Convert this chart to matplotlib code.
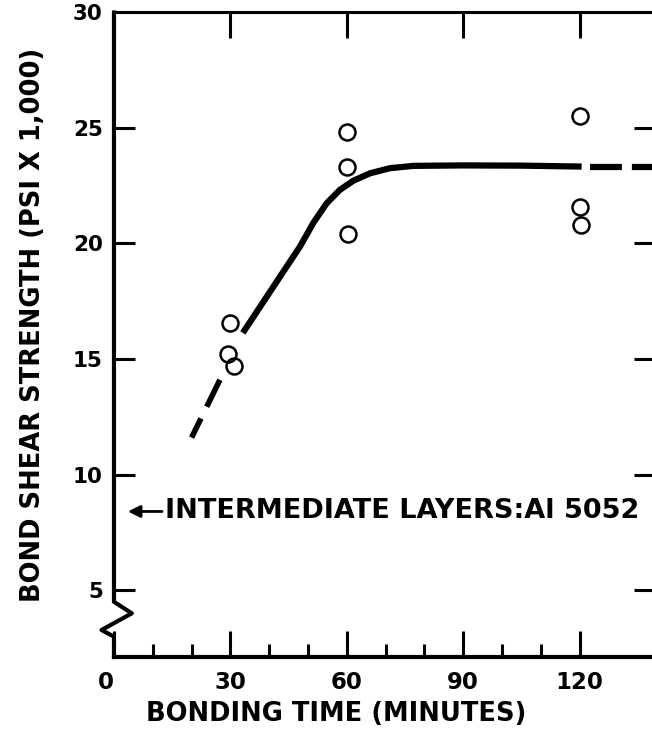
import matplotlib
matplotlib.use("Agg")
import matplotlib.pyplot as plt
from matplotlib.ticker import FixedLocator

# bonding time (min) vs bond shear strength (psi x 1000)
time_pts = [30.0, 29.5, 30.8, 60.0, 60.0, 60.2, 120.0, 120.2, 120.4]
strength_pts = [16.57, 15.22, 14.70, 24.82, 23.29, 20.39, 25.52, 21.57, 20.79]

# faired curve (solid part)
curve_x = [33.2, 44.5, 47.9, 51.4, 54.8, 58.2, 61.7, 66.0, 71.1, 77.1, 90.0, 105.0, 120.5]
curve_y = [16.13, 19.00, 19.86, 20.90, 21.74, 22.32, 22.72, 23.04, 23.26, 23.36, 23.38, 23.37, 23.33]

# extrapolated (dashed) parts
low_dash_x = [27.3, 20.0]
low_dash_y = [14.1, 11.6]
high_dash_x = [122.7, 142.0]
high_dash_y = [23.33, 23.33]

x_major = [0, 30, 60, 90, 120]
x_minor = [10, 20, 40, 50, 70, 80, 100, 110]
y_major = [5, 10, 15, 20, 25, 30]

note_text = "INTERMEDIATE LAYERS:Al 5052"

plt.rcParams.update({'font.family': 'DejaVu Sans', 'font.weight': 'bold'})

fig = plt.figure(figsize=(6.52, 7.30), dpi=100)
ax = fig.add_axes([0.1748, 0.1, 0.8298, 0.8829])
ax.set_xlim(0, 139.4)
ax.set_ylim(2.1, 30)

ax.plot(curve_x, curve_y, color='black', lw=4.5, solid_capstyle='butt', solid_joinstyle='round')
ax.plot(low_dash_x, low_dash_y, color='black', lw=4, linestyle=(0, (5.4, 2.35)))
ax.plot(high_dash_x, high_dash_y, color='black', lw=4.5, linestyle=(0, (5.1, 1.6)))
ax.plot(time_pts, strength_pts, 'o', ms=11.5, mfc='none', mec='black', mew=1.8)

# left axis drawn by hand with the break mark near the bottom
ax.spines['left'].set_visible(False)
ax.spines['right'].set_visible(False)
ax.spines['top'].set_linewidth(2.2)
ax.spines['bottom'].set_linewidth(3)
ax.plot([0, 0, 4.6, -3.2, 0, 0], [30, 4.49, 3.99, 3.27, 2.98, 2.1],
        color='black', lw=3, clip_on=False)

ax.set_xticks(x_major)
ax.set_xticklabels([str(v) for v in x_major])
ax.xaxis.set_minor_locator(FixedLocator(x_minor))
ax.set_yticks(y_major)
ax.set_yticklabels([str(v) for v in y_major])
ax.tick_params(axis='x', which='major', direction='in', length=19, width=2.2,
               top=True, labelsize=16.5, pad=10)
ax.tick_params(axis='x', which='minor', direction='in', length=9.5, width=2.2, top=False)
ax.tick_params(axis='y', which='major', direction='in', length=15, width=2.2,
               right=True, labelsize=15.5, pad=8)
ax.get_xticklabels()[0].set_horizontalalignment('right')

ax.annotate(note_text, xy=(3.6, 8.4), xytext=(13.1, 8.4), ha='left', va='center',
            fontsize=19.5, fontweight='bold',
            arrowprops=dict(arrowstyle='-|>', color='black', lw=2, mutation_scale=18,
                            shrinkA=0, shrinkB=0))

ax.set_xlabel('BONDING TIME (MINUTES)', fontsize=18.5, fontweight='bold')
ax.xaxis.set_label_coords(0.41, -0.068)
ax.set_ylabel('BOND SHEAR STRENGTH (PSI X 1,000)', fontsize=18.5, fontweight='bold')
ax.yaxis.set_label_coords(-0.1257, 0.515)

fig.savefig('out.png', dpi=100)
